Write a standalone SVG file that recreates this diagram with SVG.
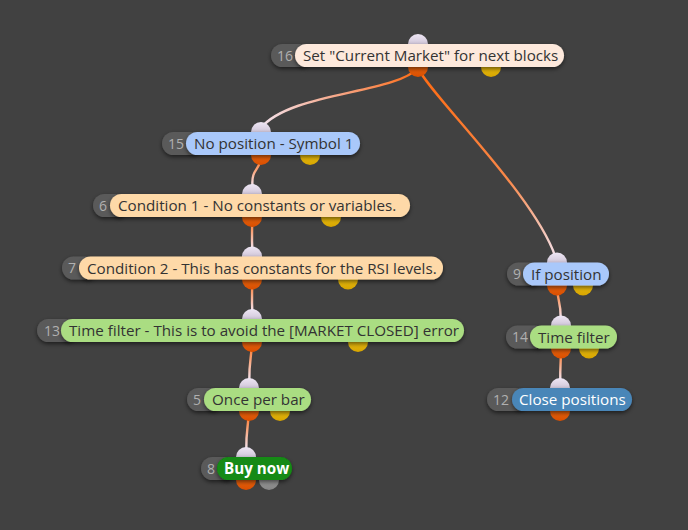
<svg xmlns="http://www.w3.org/2000/svg" width="688" height="530" viewBox="0 0 688 530">
<defs>
<style>
.bg{fill:#414141}
.badge{fill:#5a5a5a}
.num{font-family:"Open Sans","Noto Sans",sans-serif;font-size:14px;fill:#b0b0b0}
.lbl{font-family:"Open Sans","Noto Sans",sans-serif;font-size:15.2px;fill:#333333}
.wlbl{font-family:"Open Sans","Noto Sans",sans-serif;font-size:15.2px;fill:#ffffff}
.in{fill:url(#gIn)}
.out{fill:url(#gOut)}
.yel{fill:url(#gYel)}
.gry{fill:url(#gGry)}
.c{fill:none;stroke-width:2.4;stroke-linecap:round}
.peach{fill:#fde9dc}
.blue{fill:#a9c8fa}
.orng{fill:#fed9a8}
.green{fill:#aadd82}
.dgreen{fill:#128a12}
.steel{fill:#4a86b8}
</style>
<linearGradient id="gIn" x1="0" y1="0" x2="0" y2="1"><stop offset="0" stop-color="#eee6f4"/><stop offset="1" stop-color="#b4a8bf"/></linearGradient>
<linearGradient id="gOut" x1="0" y1="0" x2="0" y2="1"><stop offset="0" stop-color="#ff7a1c"/><stop offset="1" stop-color="#d84e00"/></linearGradient>
<linearGradient id="gYel" x1="0" y1="0" x2="0" y2="1"><stop offset="0" stop-color="#ffd61e"/><stop offset="1" stop-color="#d6a400"/></linearGradient>
<linearGradient id="gGry" x1="0" y1="0" x2="0" y2="1"><stop offset="0" stop-color="#aaaaaa"/><stop offset="1" stop-color="#858585"/></linearGradient>
<filter id="sh" x="-10%" y="-40%" width="120%" height="190%"><feDropShadow dx="0" dy="2" stdDeviation="2" flood-color="#000" flood-opacity="0.55"/></filter>
<linearGradient id="c1" gradientUnits="userSpaceOnUse" x1="418" y1="68" x2="261" y2="128"><stop offset="0" stop-color="#ff6a10"/><stop offset="0.45" stop-color="#f7a07c"/><stop offset="1" stop-color="#f3e4ef"/></linearGradient>
<linearGradient id="c2" gradientUnits="userSpaceOnUse" x1="418" y1="68" x2="557" y2="262"><stop offset="0" stop-color="#ff6a10"/><stop offset="0.6" stop-color="#f8884a"/><stop offset="1" stop-color="#f3e4ef"/></linearGradient>
<linearGradient id="cv" x1="0" y1="0" x2="0" y2="1"><stop offset="0" stop-color="#ff6a10"/><stop offset="1" stop-color="#f3e4ef"/></linearGradient>
</defs>
<rect class="bg" x="0" y="0" width="688" height="530"/>
<g id="connectors">
<path class="c" stroke="url(#c1)" d="M418,68 C395,94 290,92 261,128"/>
<path class="c" stroke="url(#c2)" d="M418,68 C430,95 540,200 557,262"/>
<path class="c" stroke="url(#cv)" d="M261,156 C261,170 251,168 252.5,186"/>
<path class="c" stroke="url(#cv)" d="M252,217 C252.5,230 251.5,235 252.3,249"/>
<path class="c" stroke="url(#cv)" d="M252,279 C252.5,292 251.5,298 252.3,311"/>
<path class="c" stroke="url(#cv)" d="M252,342 C251.5,358 249,362 249.3,380"/>
<path class="c" stroke="url(#cv)" d="M249,411 C248,428 246,432 246.3,449"/>
<path class="c" stroke="url(#cv)" d="M557,286 C557,300 561,302 560.7,318"/>
<path class="c" stroke="url(#cv)" d="M561,348 C561,362 560,366 560.3,380"/>
</g>
<g id="node16">
<circle class="in" cx="418" cy="44" r="10"/><circle class="out" cx="418" cy="67" r="10"/><circle class="yel" cx="491" cy="67" r="10"/>
<rect class="badge" filter="url(#sh)" x="271" y="44" width="40" height="23" rx="11.5"/>
<rect class="peach" filter="url(#sh)" x="295" y="44" width="269" height="23" rx="11.5"/>
<text class="num" x="277" y="60.5">16</text><text class="lbl" x="303" y="61">Set "Current Market" for next blocks</text>
</g>
<g id="node15">
<circle class="in" cx="261" cy="132" r="10"/><circle class="out" cx="261" cy="155" r="10"/><circle class="yel" cx="310" cy="155" r="10"/>
<rect class="badge" filter="url(#sh)" x="162" y="132" width="40" height="23" rx="11.5"/>
<rect class="blue" filter="url(#sh)" x="186" y="132" width="174" height="23" rx="11.5"/>
<text class="num" x="168" y="148.5">15</text><text class="lbl" x="194" y="149">No position - Symbol 1</text>
</g>
<g id="node6">
<circle class="in" cx="252" cy="194" r="10"/><circle class="out" cx="252" cy="217" r="10"/><circle class="yel" cx="331" cy="217" r="10"/>
<rect class="badge" filter="url(#sh)" x="93" y="194" width="35" height="23" rx="11.5"/>
<rect class="orng" filter="url(#sh)" x="110" y="194" width="300" height="23" rx="11.5"/>
<text class="num" x="99" y="210.5">6</text><text class="lbl" x="118" y="211">Condition 1 - No constants or variables.</text>
</g>
<g id="node7">
<circle class="in" cx="252" cy="256.5" r="10"/><circle class="out" cx="252" cy="279.5" r="10"/><circle class="yel" cx="348" cy="279.5" r="10"/>
<rect class="badge" filter="url(#sh)" x="62" y="256.5" width="35" height="23" rx="11.5"/>
<rect class="orng" filter="url(#sh)" x="79" y="256.5" width="364" height="23" rx="11.5"/>
<text class="num" x="68" y="273">7</text><text class="lbl" x="87" y="273.5">Condition 2 - This has constants for the RSI levels.</text>
</g>
<g id="node13">
<circle class="in" cx="252" cy="319" r="10"/><circle class="out" cx="252" cy="342" r="10"/><circle class="yel" cx="358" cy="342" r="10"/>
<rect class="badge" filter="url(#sh)" x="37" y="319" width="40" height="23" rx="11.5"/>
<rect class="green" filter="url(#sh)" x="61" y="319" width="403" height="23" rx="11.5"/>
<text class="num" x="44" y="335.5">13</text><text class="lbl" x="69" y="336">Time filter - This is to avoid the [MARKET CLOSED] error</text>
</g>
<g id="node5">
<circle class="in" cx="249" cy="388" r="10"/><circle class="out" cx="249" cy="411" r="10"/><circle class="yel" cx="280" cy="411" r="10"/>
<rect class="badge" filter="url(#sh)" x="187" y="388" width="35" height="23" rx="11.5"/>
<rect class="green" filter="url(#sh)" x="204" y="388" width="107" height="23" rx="11.5"/>
<text class="num" x="193" y="404.5">5</text><text class="lbl" x="212" y="405">Once per bar</text>
</g>
<g id="node8">
<circle class="in" cx="246" cy="457" r="10"/><circle class="out" cx="246" cy="480" r="10"/><circle class="gry" cx="269" cy="480" r="10"/>
<rect class="badge" filter="url(#sh)" x="201" y="457" width="35" height="23" rx="11.5"/>
<rect class="dgreen" filter="url(#sh)" x="217" y="457" width="75" height="23" rx="11.5"/>
<text class="num" x="207" y="473.5">8</text><text class="wlbl" x="224" y="474" font-weight="bold">Buy now</text>
</g>
<g id="node9">
<circle class="in" cx="557" cy="262.5" r="10"/><circle class="out" cx="557" cy="285.5" r="10"/><circle class="yel" cx="583" cy="285.5" r="10"/>
<rect class="badge" filter="url(#sh)" x="507" y="262.5" width="35" height="23" rx="11.5"/>
<rect class="blue" filter="url(#sh)" x="523" y="262.5" width="86" height="23" rx="11.5"/>
<text class="num" x="513" y="279">9</text><text class="lbl" x="531" y="279.5">If position</text>
</g>
<g id="node14">
<circle class="in" cx="561" cy="325.5" r="10"/><circle class="out" cx="561" cy="348.5" r="10"/><circle class="yel" cx="589" cy="348.5" r="10"/>
<rect class="badge" filter="url(#sh)" x="506" y="325.5" width="40" height="23" rx="11.5"/>
<rect class="green" filter="url(#sh)" x="530" y="325.5" width="87" height="23" rx="11.5"/>
<text class="num" x="512" y="342">14</text><text class="lbl" x="538" y="342.5">Time filter</text>
</g>
<g id="node12">
<circle class="in" cx="560" cy="388" r="10"/><circle class="out" cx="560" cy="411" r="10"/>
<rect class="badge" filter="url(#sh)" x="487" y="388" width="40" height="23" rx="11.5"/>
<rect class="steel" filter="url(#sh)" x="512" y="388" width="120" height="23" rx="11.5"/>
<text class="num" x="493" y="404.5">12</text><text class="wlbl" x="519" y="405">Close positions</text>
</g>
</svg>
